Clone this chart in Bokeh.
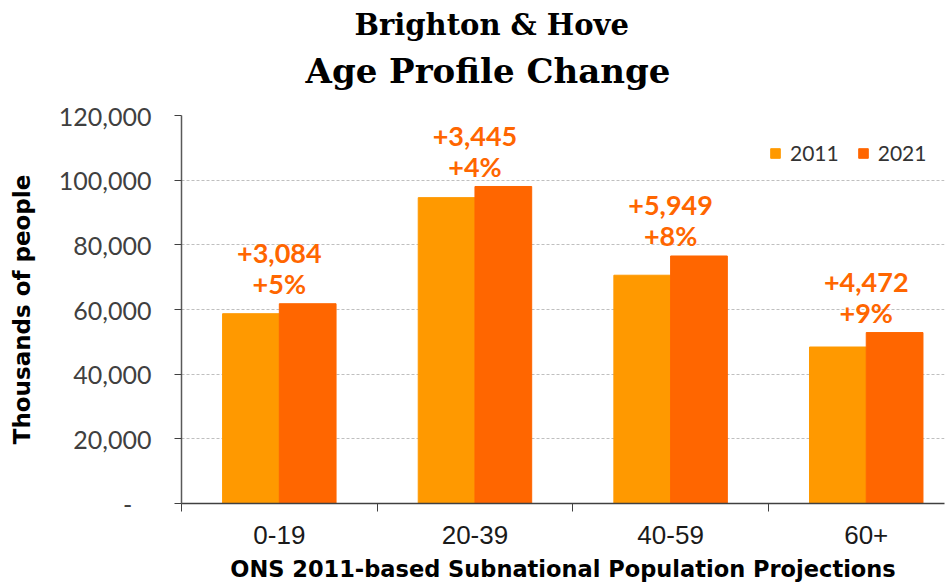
from bokeh.plotting import figure
from bokeh.models import (ColumnDataSource, Range1d, FixedTicker, NumeralTickFormatter,
                          Title, Legend, LegendItem, LabelSet)
from bokeh.core.properties import value
from bokeh.embed import file_html
from bokeh.resources import INLINE

categories = ["0-19", "20-39", "40-59", "60+"]
pop_2011 = [58700, 94600, 70600, 48400]
pop_2021 = [61784, 98045, 76549, 52872]
y_ticks = [0, 20000, 40000, 60000, 80000, 100000, 120000]

C2011 = "#FF9900"
C2021 = "#FF6600"
LABEL_FONT = "Lato"

xs = list(range(len(categories)))
diff = [b - a for a, b in zip(pop_2011, pop_2021)]
pct = [round(100 * d / a) for d, a in zip(diff, pop_2011)]

src = ColumnDataSource(dict(
    x=xs,
    x1=[x - 0.145 for x in xs],
    x2=[x + 0.145 for x in xs],
    v1=pop_2011,
    v2=pop_2021,
    dlab=["+{:,}".format(d) for d in diff],
    plab=["+{}%".format(p) for p in pct],
))

p = figure(width=946, height=584, output_backend="svg", toolbar_location=None,
           x_range=Range1d(-0.5, 3.4), y_range=Range1d(0, 120000),
           min_border_left=181, min_border_right=2, min_border_top=115, min_border_bottom=10)
p.outline_line_color = None
p.background_fill_color = "white"
p.border_fill_color = "white"

r1 = p.vbar(x="x1", top="v1", width=0.29, source=src, color=C2011)
r2 = p.vbar(x="x2", top="v2", width=0.29, source=src, color=C2021)

# labels above groups
p.add_layout(LabelSet(x="x", y="v2", text="plab", source=src, y_offset=20,
                      text_align="center", text_baseline="middle",
                      text_font=value(LABEL_FONT), text_font_style="bold",
                      text_font_size="27px", text_color=C2021))
p.add_layout(LabelSet(x="x", y="v2", text="dlab", source=src, y_offset=50,
                      text_align="center", text_baseline="middle",
                      text_font=value(LABEL_FONT), text_font_style="bold",
                      text_font_size="27px", text_color=C2021))

# axes
xa = p.xaxis[0]
xa.ticker = FixedTicker(ticks=xs, minor_ticks=[-0.5, 0.5, 1.5, 2.5, 3.5])
xa.major_label_overrides = {i: c for i, c in enumerate(categories)}
xa.major_tick_line_color = None
xa.major_tick_out = 0
xa.major_tick_in = 0
xa.minor_tick_out = 8
xa.minor_tick_in = 0
xa.minor_tick_line_color = "#404040"
xa.axis_line_color = "#404040"
xa.axis_line_width = 1.5
xa.major_label_text_font = "Liberation Sans"
xa.major_label_text_font_size = "26px"
xa.major_label_text_color = "#1a1a1a"
xa.major_label_standoff = 14
xa.axis_label = "ONS 2011-based Subnational Population Projections"
xa.axis_label_text_font = "DejaVu Sans"
xa.axis_label_text_font_style = "bold"
xa.axis_label_text_font_size = "22.5px"
xa.axis_label_text_color = "#000000"
xa.axis_label_standoff = 9

ya = p.yaxis[0]
ya.ticker = FixedTicker(ticks=y_ticks, minor_ticks=[])
ya.formatter = NumeralTickFormatter(format="0,0")
ya.major_label_overrides = {0: "-\u00a0\u00a0\u00a0"}
ya.major_tick_out = 7
ya.major_tick_in = 0
ya.major_tick_line_color = "#404040"
ya.axis_line_color = "#595959"
ya.axis_line_width = 1.5
ya.major_label_text_font = LABEL_FONT
ya.major_label_text_font_size = "25px"
ya.major_label_text_color = "#404040"
ya.major_label_standoff = 23
ya.axis_label = "Thousands of people"
ya.axis_label_text_font = "DejaVu Sans"
ya.axis_label_text_font_style = "bold"
ya.axis_label_text_font_size = "23px"
ya.axis_label_text_color = "#000000"
ya.axis_label_standoff = 21

p.xgrid.grid_line_color = None
p.ygrid.grid_line_color = "#BFBFBF"
p.ygrid.grid_line_dash = "3 2"
p.ygrid.grid_line_width = 1

# legend
legend = Legend(items=[LegendItem(label="2011", renderers=[r1]),
                       LegendItem(label="2021", renderers=[r2])],
                orientation="horizontal", location=(588, 338),
                border_line_color=None, background_fill_alpha=0,
                padding=0, margin=0, spacing=18,
                glyph_width=12, glyph_height=12, label_standoff=9,
                label_text_font=LABEL_FONT, label_text_font_size="21px",
                label_text_color="#333333", label_height=20)
p.add_layout(legend)

# titles
p.add_layout(Title(text="Age Profile Change", align="left", offset=124, standoff=50,
                   text_font="DejaVu Serif", text_font_style="bold",
                   text_font_size="34px", text_color="black"), "above")
p.add_layout(Title(text="Brighton & Hove", align="left", offset=173, standoff=-36,
                   text_font="DejaVu Serif", text_font_style="bold",
                   text_font_size="29px", text_color="black"), "above")

open("out.html", "w").write(file_html(p, INLINE))
